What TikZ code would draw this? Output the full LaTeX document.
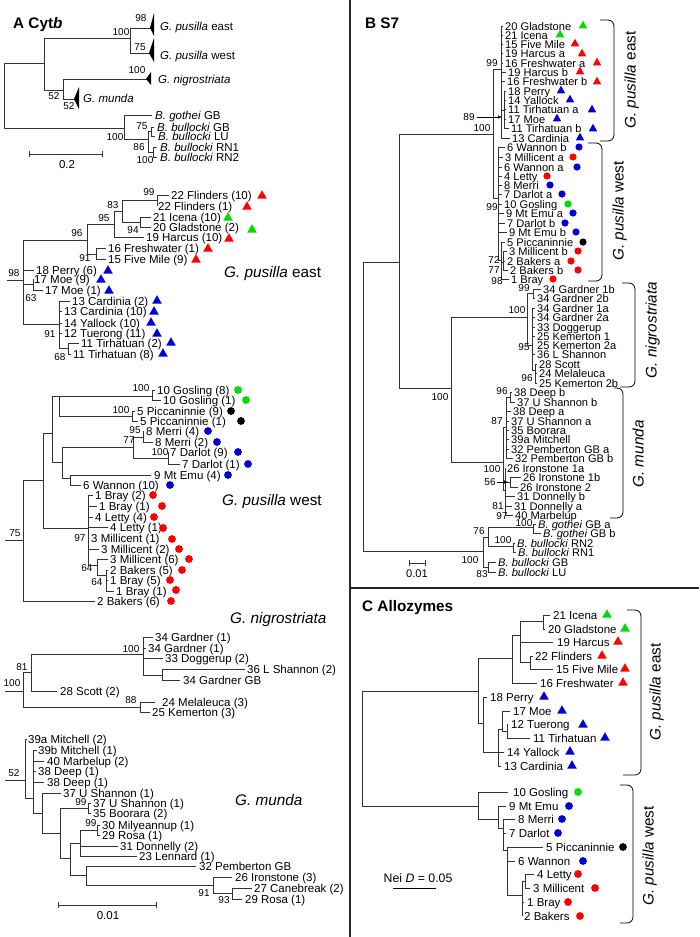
\documentclass[tikz,border=0pt]{standalone}
\usepackage{fontspec}
\setmainfont{Liberation Sans}
\usetikzlibrary{arrows.meta}
\definecolor{cr}{RGB}{255,0,0}
\definecolor{cg}{RGB}{0,220,0}
\definecolor{cb}{RGB}{0,0,215}
\newcommand\fl{\fontsize{11.5}{12}\selectfont}
\newcommand\flb{\fontsize{11.1}{12}\selectfont}
\newcommand\fs{\fontsize{10}{11}\selectfont}
\newcommand\fbig{\fontsize{15.3}{16}\selectfont}
\newcommand\LEAF[3]{\node[lft] at (#1,#2) {#3};}
\newcommand\LEAFB[3]{\node[lftb] at (#1,#2) {#3};}
\newcommand\BSL[3]{\node[bst] at (#1,#2) {#3};}
\newcommand\TRI[3]{\fill[#3] (#1,#2) ++(-4.8,3.6) -- ++(9.6,0) -- ++(-4.8,-8.4) -- cycle;}
\newcommand\TRIs[3]{\fill[#3] (#1,#2) ++(-4.2,3.3) -- ++(8.4,0) -- ++(-4.2,-7.6) -- cycle;}
\newcommand\CIR[3]{\fill[#3] (#1,#2) circle[radius=3.9pt];}
\newcommand\CIRs[3]{\fill[#3] (#1,#2) circle[radius=3.6pt];}
\begin{document}
\begin{tikzpicture}[x=1pt,y=-1pt,
  tl/.style={line width=0.6pt, draw=black!80},
  lft/.style={font=\fl, anchor=west, inner sep=0pt, text height=8.2pt, text depth=0pt},
  lftb/.style={font=\flb, anchor=west, inner sep=0pt, text height=8pt, text depth=0pt},
  bst/.style={font=\fs, inner sep=0pt, text height=7.1pt, text depth=0pt},
  big/.style={font=\fbig, inner sep=0pt, text height=11pt, text depth=0pt},
  ttl/.style={font=\fbig\bfseries, anchor=west, inner sep=0pt, text height=11pt, text depth=0pt},
  brk/.style={line width=0.8pt, draw=black, rounded corners=6pt},
  div/.style={line width=1.5pt, draw=black!85}]
\useasboundingbox (0,0) rectangle (699,937);
\fill[white] (0,0) rectangle (699,937);

% ================= PANEL A =================
\node[ttl] (tA) at (13,23) {A Cyt\textit{b}};
% summary tree
\draw[tl] (4,63)--(4,128) (4,63)--(44,63) (44,38)--(44,90) (44,38)--(130,38)
  (130,28)--(130,53) (130,28)--(151,28) (130,53)--(150,53)
  (44,90)--(63,90) (63,79)--(63,99) (63,79)--(147,79) (63,99)--(75,99);
\fill (150,28)--(154,13)--(154,36)--cycle;
\fill (149,53)--(154,38)--(154,62)--cycle;
\fill (146,79)--(151,72)--(151,85)--cycle;
\fill (74,99)--(79,87)--(79,109)--cycle;
\BSL{121}{32}{100}\BSL{141}{18}{98}\BSL{140}{47}{75}\BSL{137}{70}{100}\BSL{54}{96}{52}\BSL{69}{106}{52}
\LEAF{160}{26}{\textit{G. pusilla} east}
\LEAF{160}{55}{\textit{G. pusilla} west}
\LEAF{158}{79}{\textit{G. nigrostriata}}
\LEAF{83}{98}{\textit{G. munda}}
% outgroup
\draw[tl] (4,128)--(124,128) (124,115)--(124,139) (124,115)--(152,115) (124,139)--(148,139)
  (148,131)--(148,152) (148,131)--(151,131) (151,127)--(151,136) (151,127)--(154,127) (151,136)--(155,136)
  (148,152)--(153,152) (153,147)--(153,157) (153,147)--(157,147) (153,157)--(157,157);
\LEAF{155}{115}{\textit{B. gothei} GB}
\LEAF{157}{127}{\textit{B. bullocki} GB}
\LEAF{158}{136}{\textit{B. bullocki} LU}
\LEAF{160}{147}{\textit{B. bullocki} RN1}
\LEAF{160}{157}{\textit{B. bullocki} RN2}
\BSL{142}{126}{75}\BSL{115}{137}{100}\BSL{139}{147}{86}\BSL{145}{160}{100}
\draw[tl] (29,154)--(102,154) (29,151)--(29,157) (102,151)--(102,157);
\node[lft, anchor=center] (sA1) at (67,164) {0.2};

% G. pusilla east (A)
\draw[tl] (7,280)--(23,280) (23,240)--(23,324) (23,240)--(87,240) (87,224)--(87,254) (87,224)--(114,224)
  (114,211)--(114,237) (114,237)--(144,237) (114,211)--(122,211) (122,200)--(122,222)
  (122,200)--(157,200) (157,195)--(157,206) (157,195)--(169,195)
  (122,222)--(140,222) (140,217)--(140,227) (140,217)--(151,217) (140,227)--(151,227)
  (87,254)--(96,254) (96,248)--(96,259) (96,248)--(106,248) (96,259)--(106,259)
  (23,270)--(34,270) (23,284)--(33,284) (33,279)--(33,290) (33,290)--(43,290)
  (23,324)--(59,324) (59,301)--(59,348) (59,301)--(70,301) (59,311)--(62,311) (59,323)--(62,323)
  (59,333)--(62,333) (59,348)--(68,348) (68,343)--(68,354) (68,343)--(79,343) (68,354)--(71,354);
\BSL{149}{192}{99}\BSL{113}{205}{83}\BSL{133}{230}{94}\BSL{104}{218}{95}\BSL{77}{233}{96}
\BSL{85}{258}{91}\BSL{14}{273}{98}\BSL{31}{298}{63}\BSL{50}{334}{91}\BSL{60}{357}{68}
\LEAF{171}{195}{22 Flinders (10)} \TRI{262}{195}{cr}
\LEAF{158}{206}{22 Flinders (1)} \TRI{247}{206}{cr}
\LEAF{153}{217}{21 Icena (10)} \TRI{228}{217}{cg}
\LEAF{153}{227}{20 Gladstone (2)} \TRI{252}{229}{cg}
\LEAF{146}{237}{19 Harcus (10)} \TRI{229}{238}{cr}
\LEAF{108}{248}{16 Freshwater (1)} \TRI{208}{248}{cr}
\LEAF{108}{259}{15 Five Mile (9)} \TRI{196}{259}{cr}
\LEAF{36}{270}{18 Perry (6)} \TRI{108}{270}{cb}
\LEAF{34}{279}{17 Moe (9)} \TRI{101}{279}{cb}
\LEAF{45}{290}{17 Moe (1)} \TRI{109}{290}{cb}
\LEAF{72}{301}{13 Cardinia (2)} \TRI{157}{300}{cb}
\LEAF{64}{311}{13 Cardinia (10)} \TRI{154}{311}{cb}
\LEAF{64}{323}{14 Yallock (10)} \TRI{151}{322}{cb}
\LEAF{64}{333}{12 Tuerong (11)} \TRI{157}{333}{cb}
\LEAF{81}{343}{11 Tirhatuan (2)} \TRI{171}{342}{cb}
\LEAF{73}{354}{11 Tirhatuan (8)} \TRI{163}{353}{cb}
\node[big, anchor=west] (eA) at (224,272) {\textit{G. pusilla} east};

% G. pusilla west (A)
\draw[tl] (5,540)--(23,540) (23,480)--(23,601) (23,601)--(95,601) (23,480)--(43,480) (43,433)--(43,528)
  (43,433)--(52,433) (52,396)--(52,462) (52,396)--(59,396) (59,396)--(59,416)
  (59,396)--(152,396) (152,390)--(152,400) (152,390)--(155,390) (152,400)--(161,400)
  (59,416)--(132,416) (132,411)--(132,421) (132,411)--(135,411) (132,421)--(138,421)
  (52,462)--(62,462) (62,447)--(62,478) (62,447)--(133,447) (133,437)--(133,458)
  (133,437)--(143,437) (143,431)--(143,442) (143,442)--(153,442) (133,458)--(168,458)
  (168,452)--(168,464) (168,464)--(180,464)
  (62,478)--(70,478) (70,475)--(70,485) (70,475)--(151,475) (70,485)--(81,485)
  (43,528)--(88,528) (88,495)--(88,565) (88,495)--(93,495) (88,506)--(97,506) (88,517)--(93,517)
  (88,527)--(108,527) (88,549)--(99,549) (88,565)--(97,565) (97,559)--(97,575) (97,559)--(108,559)
  (97,575)--(106,575) (106,570)--(106,591) (106,570)--(108,570) (106,580)--(108,580) (106,591)--(114,591);
\BSL{141}{388}{100}\BSL{121}{410}{100}\BSL{135}{430}{95}\BSL{129}{440}{77}\BSL{160}{452}{100}
\BSL{15}{533}{75}\BSL{80}{538}{97}\BSL{87}{568}{64}\BSL{97}{582}{64}
\LEAF{157}{390}{10 Gosling (8)} \CIR{238}{390}{cg}
\LEAF{163}{400}{10 Gosling (1)} \CIR{246}{400}{cg}
\LEAF{137}{411}{5 Piccaninnie (9)} \CIR{231}{411}{black}
\LEAF{140}{421}{5 Piccaninnie (1)} \CIR{241}{421}{black}
\LEAF{146}{431}{8 Merri (4)} \CIR{208}{431}{cb}
\LEAF{155}{442}{8 Merri (2)} \CIR{217}{442}{cb}
\LEAF{170}{452}{7 Darlot (9)} \CIR{238}{452}{cb}
\LEAF{182}{464}{7 Darlot (1)} \CIR{248}{464}{cb}
\LEAF{154}{475}{9 Mt Emu (4)} \CIR{228}{475}{cb}
\LEAF{83}{485}{6 Wannon (10)} \CIR{170}{485}{cb}
\LEAF{95}{495}{1 Bray (2)} \CIR{153}{495}{cr}
\LEAF{99}{506}{1 Bray (1)} \CIR{162}{506}{cr}
\LEAF{95}{517}{4 Letty (4)} \CIR{154}{517}{cr}
\LEAF{110}{527}{4 Letty (1)} \CIR{163}{528}{cr}
\LEAF{91}{538}{3 Millicent (1)} \CIR{172}{539}{cr}
\LEAF{101}{549}{3 Millicent (2)} \CIR{179}{549}{cr}
\LEAF{110}{559}{3 Millicent (6)} \CIR{189}{559}{cr}
\LEAF{110}{570}{2 Bakers (5)} \CIR{182}{570}{cr}
\LEAF{110}{580}{1 Bray (5)} \CIR{170}{580}{cr}
\LEAF{116}{591}{1 Bray (1)} \CIR{176}{590}{cr}
\LEAF{97}{601}{2 Bakers (6)} \CIR{171}{601}{cr}
\node[big, anchor=west] (wA) at (222,500) {\textit{G. pusilla} west};

% G. nigrostriata (A)
\draw[tl] (5,691)--(23,691) (23,672)--(23,707) (23,672)--(31,672) (31,654)--(31,691) (31,654)--(143,654)
  (143,637)--(143,675) (143,637)--(153,637) (143,648)--(146,648) (143,658)--(163,658)
  (143,675)--(162,675) (162,669)--(162,680) (162,669)--(245,669) (162,680)--(180,680)
  (31,691)--(57,691) (23,707)--(140,707) (140,702)--(140,712) (140,702)--(155,702) (140,712)--(150,712);
\BSL{131}{649}{100}\BSL{22}{667}{81}\BSL{12}{683}{100}\BSL{131}{700}{88}
\LEAF{155}{637}{34 Gardner (1)}
\LEAF{148}{648}{34 Gardner (1)}
\LEAF{165}{658}{33 Doggerup (2)}
\LEAF{247}{669}{36 L Shannon (2)}
\LEAF{183}{680}{34 Gardner GB}
\LEAF{60}{691}{28 Scott (2)}
\LEAF{162}{702}{24 Melaleuca (3)}
\LEAF{152}{712}{25 Kemerton (3)}
\node[big, anchor=west] (nA) at (230,618) {\textit{G. nigrostriata}};

% G. munda (A)
\draw[tl] (5,780)--(25,780) (25,739)--(25,798) (25,739)--(27,739) (25,798)--(33,798) (33,750)--(33,813)
  (33,750)--(37,750) (33,761)--(44,761) (33,771)--(36,771) (33,782)--(44,782) (33,813)--(42,813)
  (42,793)--(42,833) (42,793)--(61,793) (42,833)--(60,833) (60,808)--(60,858) (60,808)--(88,808)
  (88,803)--(88,813) (88,803)--(91,803) (88,813)--(91,813) (60,858)--(70,858) (70,843)--(70,875)
  (70,843)--(80,843) (80,830)--(80,856) (80,830)--(97,830) (97,825)--(97,835) (97,825)--(100,825)
  (97,835)--(100,835) (80,846)--(118,846) (80,856)--(137,856) (70,875)--(86,875) (86,866)--(86,885)
  (86,866)--(196,866) (86,885)--(213,885) (213,877)--(213,893) (213,877)--(232,877) (213,893)--(232,893)
  (232,888)--(232,899) (232,888)--(252,888) (232,899)--(242,899);
\BSL{14}{773}{52}\BSL{81}{802}{99}\BSL{91}{823}{99}\BSL{204}{893}{91}\BSL{224}{900}{93}
\LEAF{28}{739}{39a Mitchell (2)}
\LEAF{38}{750}{39b Mitchell (1)}
\LEAF{47}{761}{40 Marbelup (2)}
\LEAF{38}{771}{38 Deep (1)}
\LEAF{47}{782}{38 Deep (1)}
\LEAF{63}{793}{37 U Shannon (1)}
\LEAF{93}{803}{37 U Shannon (1)}
\LEAF{93}{813}{35 Boorara (2)}
\LEAF{102}{825}{30 Milyeannup (1)}
\LEAF{102}{835}{29 Rosa (1)}
\LEAF{120}{846}{31 Donnelly (2)}
\LEAF{139}{856}{23 Lennard (1)}
\LEAF{199}{866}{32 Pemberton GB}
\LEAF{235}{877}{26 Ironstone (3)}
\LEAF{254}{888}{27 Canebreak (2)}
\LEAF{245}{899}{29 Rosa (1)}
\node[big, anchor=west] (mA) at (235,800) {\textit{G. munda}};
\draw[tl] (58,905)--(156,905) (58,902)--(58,908) (156,902)--(156,908);
\node[lft, anchor=center] (sA2) at (108,915) {0.01};

% ================= dividers =================
\draw[div] (350,0)--(350,937) (350,588)--(699,588);

% ================= PANEL B =================
\node[ttl] (tB) at (365,23) {B S7};
\draw[tl] (363,262)--(363,551) (363,262)--(399,262) (399,134)--(399,388) (399,134)--(493,134)
  (493,69)--(493,198) (493,69)--(501,69) (501,26)--(501,138)
  (501,26)--(503,26) (501,35)--(503,35) (501,44)--(503,44) (501,53)--(503,53) (501,63)--(503,63)
  (501,72)--(506,72) (501,81)--(505,81) (501,110)--(504,110) (504,91)--(504,128)
  (504,91)--(506,91) (504,100)--(506,100) (504,109)--(506,109) (504,119)--(506,119) (504,128)--(509,128)
  (501,138)--(510,138)
  (493,198)--(498,198) (498,147)--(498,260) (498,147)--(505,147) (498,157)--(503,157) (498,167)--(502,167)
  (498,176)--(502,176) (498,185)--(502,185) (498,194)--(502,194) (498,204)--(502,204) (498,213)--(504,213)
  (498,223)--(505,223) (498,232)--(507,232) (498,260)--(501,260) (501,242)--(501,279)
  (501,242)--(505,242) (501,279)--(509,279) (501,262)--(503,262) (503,251)--(503,270)
  (503,251)--(507,251) (503,261)--(505,261) (503,270)--(508,270);
\draw[-{Latex[length=4pt,width=3.5pt]}, line width=0.6pt] (477,117)--(502,117);
\BSL{469}{117}{89}\BSL{492}{63}{99}\BSL{482}{128}{100}\BSL{492}{207}{99}
\BSL{494}{260}{72}\BSL{494}{270}{77}\BSL{497}{281}{98}
\LEAFB{505}{26}{20 Gladstone} \TRIs{583}{25}{cg}
\LEAFB{505}{35}{21 Icena} \TRIs{560}{34}{cg}
\LEAFB{505}{44}{15 Five Mile} \TRIs{575}{43}{cr}
\LEAFB{505}{53}{19 Harcus a} \TRIs{582}{53}{cr}
\LEAFB{505}{63}{16 Freshwater a} \TRIs{597}{62}{cr}
\LEAFB{508}{72}{19 Harcus b} \TRIs{580}{71}{cr}
\LEAFB{507}{81}{16 Freshwater b} \TRIs{597}{81}{cr}
\LEAFB{508}{91}{18 Perry} \TRIs{561}{90}{cb}
\LEAFB{508}{100}{14 Yallock} \TRIs{570}{99}{cb}
\LEAFB{508}{109}{11 Tirhatuan a} \TRIs{592}{109}{cb}
\LEAFB{508}{119}{17 Moe} \TRIs{557}{118}{cb}
\LEAFB{511}{128}{11 Tirhatuan b} \TRIs{593}{128}{cb}
\LEAFB{512}{138}{13 Cardinia} \TRIs{580}{137}{cb}
\LEAFB{507}{147}{6 Wannon b} \CIRs{579}{147}{cb}
\LEAFB{505}{157}{3 Millicent a} \CIRs{573}{157}{cr}
\LEAFB{504}{167}{6 Wannon a} \CIRs{577}{167}{cb}
\LEAFB{504}{176}{4 Letty} \CIRs{547}{176}{cr}
\LEAFB{504}{185}{8 Merri} \CIRs{550}{185}{cb}
\LEAFB{504}{194}{7 Darlot a} \CIRs{562}{194}{cb}
\LEAFB{504}{204}{10 Gosling} \CIRs{568}{204}{cg}
\LEAFB{506}{213}{9 Mt Emu a} \CIRs{573}{213}{cb}
\LEAFB{507}{223}{7 Darlot b} \CIRs{565}{223}{cb}
\LEAFB{509}{232}{9 Mt Emu b} \CIRs{576}{232}{cb}
\LEAFB{507}{242}{5 Piccaninnie} \CIRs{583}{242}{black}
\LEAFB{509}{251}{3 Millicent b} \CIRs{578}{251}{cr}
\LEAFB{507}{261}{2 Bakers a} \CIRs{571}{261}{cr}
\LEAFB{510}{270}{2 Bakers b} \CIRs{578}{270}{cr}
\LEAFB{511}{279}{1 Bray} \CIRs{553}{279}{cr}
% nigrostriata B
\draw[tl] (399,388)--(451,388) (451,317)--(451,462) (451,317)--(527,317) (527,293)--(527,345)
  (527,293)--(533,293) (533,289)--(533,298) (533,289)--(541,289) (533,298)--(535,298)
  (527,345)--(532,345) (532,308)--(532,370) (532,308)--(535,308) (532,317)--(535,317) (532,327)--(535,327)
  (532,336)--(535,336) (532,354)--(535,354) (532,370)--(535,370) (535,364)--(535,383)
  (535,364)--(537,364) (535,373)--(537,373) (535,383)--(537,383);
\BSL{524}{288}{99}\BSL{517}{310}{100}\BSL{524}{347}{95}\BSL{527}{378}{96}\BSL{440}{397}{100}
\LEAFB{543}{289}{34 Gardner 1b}
\LEAFB{537}{298}{34 Gardner 2b}
\LEAFB{537}{308}{34 Gardner 1a}
\LEAFB{537}{317}{34 Gardner 2a}
\LEAFB{537}{327}{33 Doggerup}
\LEAFB{537}{336}{25 Kemerton 1}
\LEAFB{537}{345}{25 Kemerton 2a}
\LEAFB{537}{354}{36 L Shannon}
\LEAFB{539}{364}{28 Scott}
\LEAFB{539}{373}{24 Melaleuca}
\LEAFB{539}{383}{25 Kemerton 2b}
% munda B
\draw[tl] (451,462)--(503,462) (503,427)--(503,490) (503,427)--(506,427) (506,397)--(506,458)
  (506,397)--(510,397) (510,392)--(510,402) (510,392)--(512,392) (510,402)--(515,402)
  (506,411)--(511,411) (506,421)--(509,421) (506,430)--(509,430) (506,439)--(509,439) (506,449)--(509,449)
  (506,458)--(513,458) (503,490)--(505,490) (505,468)--(505,515) (505,468)--(506,468)
  (505,482)--(510,482) (510,477)--(510,487) (510,477)--(521,477) (510,487)--(518,487)
  (505,496)--(515,496) (505,506)--(512,506) (505,515)--(513,515);
\draw[-{Latex[length=4pt,width=3.5pt]}, line width=0.6pt] (497,482)--(508,482);
\BSL{502}{391}{96}\BSL{497}{421}{87}\BSL{492}{469}{100}\BSL{490}{482}{56}\BSL{498}{506}{81}\BSL{502}{516}{97}
\LEAFB{514}{392}{38 Deep b}
\LEAFB{517}{402}{37 U Shannon b}
\LEAFB{513}{411}{38 Deep a}
\LEAFB{511}{421}{37 U Shannon a}
\LEAFB{511}{430}{35 Boorara}
\LEAFB{511}{439}{39a Mitchell}
\LEAFB{511}{449}{32 Pemberton GB a}
\LEAFB{515}{458}{32 Pemberton GB b}
\LEAFB{507}{468}{26 Ironstone 1a}
\LEAFB{523}{477}{26 Ironstone 1b}
\LEAFB{520}{487}{26 Ironstone 2}
\LEAFB{517}{496}{31 Donnelly b}
\LEAFB{514}{506}{31 Donnelly a}
\LEAFB{515}{515}{40 Marbelup}
% outgroup B
\draw[tl] (363,551)--(483,551) (483,537)--(483,567) (483,537)--(488,537) (488,527)--(488,546)
  (488,527)--(533,527) (533,524)--(533,533) (533,524)--(536,524) (533,533)--(541,533)
  (488,546)--(513,546) (513,543)--(513,552) (513,543)--(515,543) (513,552)--(516,552)
  (483,567)--(488,567) (488,562)--(488,572) (488,562)--(496,562) (488,572)--(496,572);
\BSL{479}{531}{76}\BSL{524}{523}{100}\BSL{503}{540}{100}\BSL{470}{560}{100}\BSL{482}{574}{83}
\LEAFB{538}{524}{\textit{B. gothei} GB a}
\LEAFB{543}{533}{\textit{B. gothei} GB b}
\LEAFB{517}{543}{\textit{B. bullocki} RN2}
\LEAFB{518}{552}{\textit{B. bullocki} RN1}
\LEAFB{498}{562}{\textit{B. bullocki} GB}
\LEAFB{498}{572}{\textit{B. bullocki} LU}
\draw[tl] (409,563)--(425,563) (409,560)--(409,566) (425,560)--(425,566);
\node[lftb, anchor=center] (sB) at (417,573) {0.01};
% brackets B
\draw[brk] (600,20)--(614,20)--(614,141)--(600,141);
\draw[brk] (588,143)--(602,143)--(602,281)--(588,281);
\draw[brk] (622,283)--(635,283)--(635,387)--(620,387);
\draw[brk] (614,388)--(623,388)--(623,518)--(610,518);
\node[big, rotate=90] (bE) at (630,80) {\textit{G. pusilla} east};
\node[big, rotate=90] (bW) at (618,211) {\textit{G. pusilla} west};
\node[big, rotate=90] (bN) at (651,330) {\textit{G. nigrostriata}};
\node[big, rotate=90] (bM) at (638,454) {\textit{G. munda}};

% ================= PANEL C =================
\node[ttl] (tC) at (362,606) {C Allozymes};
\draw[tl] (362,691)--(362,806) (362,691)--(478,691) (478,658)--(478,723) (478,658)--(512,658)
  (512,635)--(512,683) (512,683)--(537,683) (512,635)--(520,635) (520,621)--(520,662)
  (520,621)--(543,621) (543,615)--(543,629) (543,615)--(550,615) (543,629)--(545,629)
  (520,642)--(553,642) (520,662)--(530,662) (530,656)--(530,669) (530,656)--(533,656) (530,669)--(553,669)
  (478,723)--(483,723) (483,697)--(483,752) (483,697)--(487,697) (483,752)--(498,752)
  (498,729)--(498,766) (498,752)--(504,752) (498,766)--(501,766) (498,729)--(502,729)
  (502,711)--(502,731) (502,711)--(510,711) (502,731)--(507,731) (507,724)--(507,738)
  (507,724)--(508,724) (507,738)--(530,738)
  (362,806)--(478,806) (478,792)--(478,819) (478,792)--(508,792) (478,819)--(498,819)
  (498,806)--(498,828) (498,806)--(506,806) (498,828)--(503,828) (503,819)--(503,850)
  (503,819)--(515,819) (503,833)--(506,833) (503,850)--(507,850) (507,847)--(507,895)
  (507,847)--(543,847) (507,861)--(515,861) (507,895)--(522,895) (522,881)--(522,916)
  (522,881)--(525,881) (525,874)--(525,888) (525,874)--(534,874) (525,888)--(530,888)
  (522,902)--(524,902);
\LEAF{553}{615}{21 Icena} \TRI{607}{614}{cg}
\LEAF{548}{629}{20 Gladstone} \TRI{625}{628}{cg}
\LEAF{557}{642}{19 Harcus} \TRI{618}{641}{cr}
\LEAF{535}{656}{22 Flinders} \TRI{602}{655}{cr}
\LEAF{556}{669}{15 Five Mile} \TRI{625}{668}{cr}
\LEAF{540}{683}{16 Freshwater} \TRI{623}{682}{cr}
\LEAF{490}{697}{18 Perry} \TRI{544}{696}{cb}
\LEAF{513}{711}{17 Moe} \TRI{562}{710}{cb}
\LEAF{511}{724}{12 Tuerong} \TRI{583}{724}{cb}
\LEAF{533}{738}{11 Tirhatuan} \TRI{605}{737}{cb}
\LEAF{507}{752}{14 Yallock} \TRI{570}{751}{cb}
\LEAF{504}{766}{13 Cardinia} \TRI{572}{765}{cb}
\LEAF{513}{792}{10 Gosling} \CIR{578}{792}{cg}
\LEAF{509}{806}{9 Mt Emu} \CIR{569}{806}{cb}
\LEAF{518}{819}{8 Merri} \CIR{562}{819}{cb}
\LEAF{509}{833}{7 Darlot} \CIR{558}{833}{cb}
\LEAF{546}{847}{5 Piccaninnie} \CIR{623}{847}{black}
\LEAF{518}{861}{6 Wannon} \CIR{583}{861}{cb}
\LEAF{537}{874}{4 Letty} \CIR{578}{874}{cr}
\LEAF{533}{888}{3 Millicent} \CIR{595}{888}{cr}
\LEAF{527}{902}{1 Bray} \CIR{568}{902}{cr}
\LEAF{524}{916}{2 Bakers} \CIR{580}{916}{cr}
\draw[brk] (627,610)--(641,610)--(641,775)--(623,775);
\draw[brk] (620,785)--(633,785)--(633,923)--(620,923);
\node[big, rotate=90] (cE) at (655,692) {\textit{G. pusilla} east};
\node[big, rotate=90] (cW) at (648,856) {\textit{G. pusilla} west};
\node[font=\fontsize{12.3}{13}\selectfont, inner sep=0pt, text height=8.8pt, text depth=0pt] (nei) at (418,878) {Nei \textit{D} = 0.05};
\draw[line width=0.8pt] (393,888)--(436,888);
\end{tikzpicture}
\end{document}
